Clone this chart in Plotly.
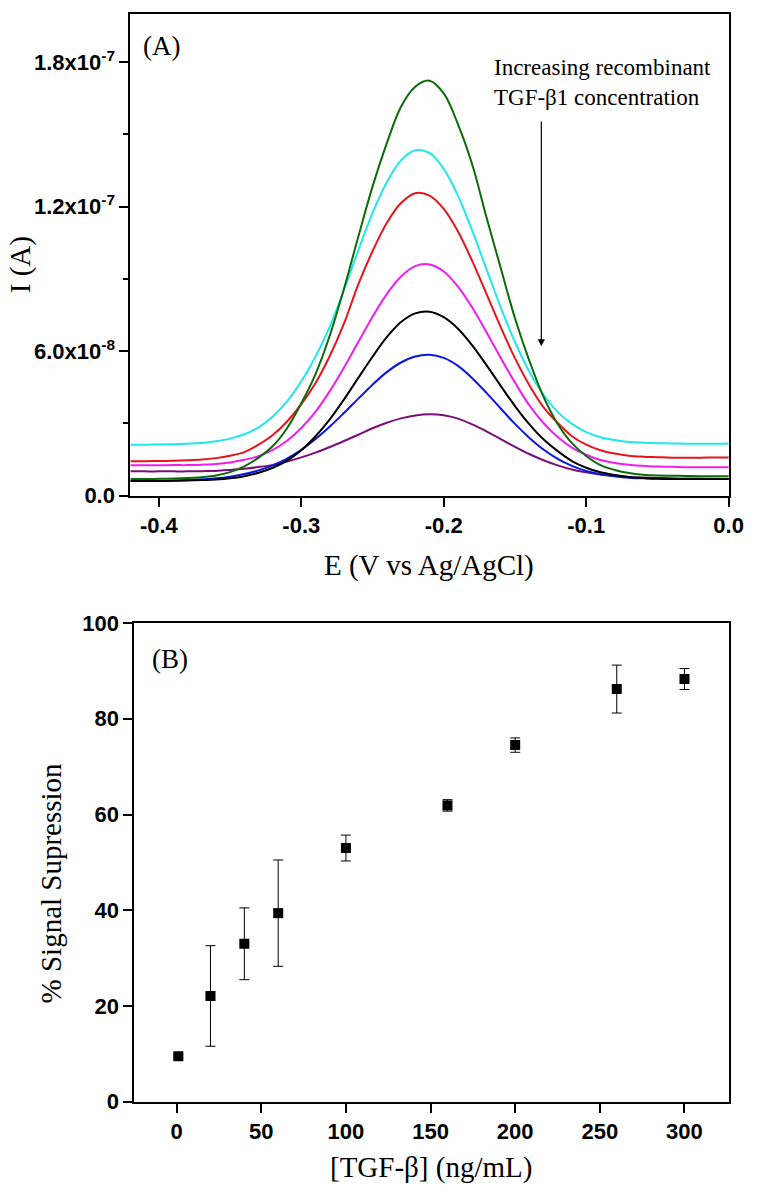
import plotly.graph_objects as go

# ---- panel A: voltammograms, potential (V) and current (units of 1e-8 A) ----
e_volts = [-0.42, -0.41, -0.40, -0.39, -0.38, -0.37, -0.36, -0.35, -0.34, -0.33,
           -0.32, -0.31, -0.30, -0.29, -0.28, -0.27, -0.26, -0.25, -0.24, -0.23,
           -0.22, -0.21, -0.20, -0.19, -0.18, -0.17, -0.16, -0.15, -0.14, -0.13,
           -0.12, -0.11, -0.10, -0.09, -0.08, -0.07, -0.06, -0.05, -0.04, -0.03,
           -0.02, -0.01, 0.00]
i_green = [0.69, 0.69, 0.70, 0.71, 0.73, 0.77, 0.84, 0.98, 1.22, 1.58,
           2.06, 2.80, 3.84, 5.05, 6.65, 8.60, 10.75, 12.83, 14.63, 16.15,
           16.98, 17.23, 16.70, 15.42, 13.75, 11.56, 9.45, 7.37, 5.62, 4.11,
           2.98, 2.18, 1.65, 1.27, 1.07, 0.94, 0.87, 0.84, 0.83, 0.82,
           0.81, 0.81, 0.81]
i_cyan = [2.12, 2.12, 2.13, 2.14, 2.16, 2.19, 2.26, 2.37, 2.55, 2.84,
          3.29, 3.92, 4.75, 5.78, 7.02, 8.55, 10.18, 11.74, 13.01, 13.92,
          14.34, 14.23, 13.57, 12.45, 11.00, 9.41, 7.82, 6.38, 5.16, 4.20,
          3.47, 2.98, 2.64, 2.43, 2.31, 2.23, 2.20, 2.18, 2.17, 2.16,
          2.16, 2.16, 2.17]
i_red = [1.43, 1.43, 1.44, 1.45, 1.47, 1.50, 1.56, 1.66, 1.81, 2.12,
         2.52, 3.08, 3.80, 4.68, 5.80, 7.15, 8.77, 10.15, 11.32, 12.15,
         12.56, 12.46, 11.91, 10.97, 9.74, 8.38, 7.00, 5.71, 4.60, 3.68,
         3.02, 2.47, 2.12, 1.89, 1.75, 1.66, 1.62, 1.60, 1.58, 1.58,
         1.58, 1.59, 1.59]
i_magenta = [1.26, 1.26, 1.26, 1.27, 1.27, 1.29, 1.32, 1.38, 1.49, 1.64,
             1.90, 2.28, 2.81, 3.49, 4.34, 5.32, 6.38, 7.43, 8.37, 9.10,
             9.53, 9.60, 9.31, 8.68, 7.81, 6.79, 5.72, 4.70, 3.76, 3.02,
             2.44, 2.00, 1.70, 1.48, 1.36, 1.28, 1.24, 1.21, 1.20, 1.18,
             1.18, 1.18, 1.18]
i_black = [0.61, 0.61, 0.61, 0.62, 0.63, 0.65, 0.67, 0.72, 0.81, 0.95,
           1.16, 1.46, 1.89, 2.47, 3.17, 4.00, 4.89, 5.77, 6.58, 7.21,
           7.57, 7.64, 7.41, 6.93, 6.24, 5.42, 4.56, 3.72, 2.97, 2.34,
           1.85, 1.44, 1.16, 0.97, 0.86, 0.78, 0.73, 0.71, 0.69, 0.69,
           0.69, 0.69, 0.69]
i_blue = [0.61, 0.61, 0.62, 0.63, 0.65, 0.68, 0.72, 0.79, 0.90, 1.05,
          1.26, 1.54, 1.90, 2.35, 2.87, 3.44, 4.03, 4.61, 5.13, 5.53,
          5.78, 5.85, 5.72, 5.39, 4.88, 4.27, 3.62, 2.98, 2.41, 1.92,
          1.53, 1.24, 1.03, 0.89, 0.81, 0.75, 0.72, 0.70, 0.69, 0.69,
          0.69, 0.69, 0.69]
i_purple = [1.02, 1.01, 1.01, 1.01, 1.01, 1.02, 1.03, 1.07, 1.12, 1.19,
            1.28, 1.42, 1.59, 1.79, 2.02, 2.27, 2.53, 2.80, 3.03, 3.21,
            3.33, 3.38, 3.34, 3.20, 2.96, 2.67, 2.35, 2.03, 1.73, 1.47,
            1.26, 1.09, 0.97, 0.88, 0.82, 0.78, 0.76, 0.74, 0.72, 0.71,
            0.71, 0.70, 0.69]
current_unit = 1e-8

a_yticks = [0, 6e-8, 1.2e-7, 1.8e-7]
a_yticktext = ["0.0", "6.0x10<sup>-8</sup>", "1.2x10<sup>-7</sup>", "1.8x10<sup>-7</sup>"]
a_xticks = [-0.4, -0.3, -0.2, -0.1, 0.0]
a_xticktext = ["-0.4", "-0.3", "-0.2", "-0.1", "0.0"]

# ---- panel B: signal suppression vs TGF-beta concentration ----
tgf_conc = [1, 20, 40, 60, 100, 160, 200, 260, 300]
suppression = [9.5, 22.1, 33.0, 39.4, 53.0, 61.9, 74.5, 86.2, 88.3]
suppression_err = [0.4, 10.5, 7.5, 11.1, 2.7, 1.2, 1.5, 5.0, 2.2]

serif = "Liberation Serif"
sans = "Liberation Sans"
W, H = 761, 1199


def px(x):
    return x / W


def py(y):
    return 1 - y / H


curves = [
    (i_purple, "#7a0f7a"),
    (i_blue, "#0a14e6"),
    (i_black, "#000000"),
    (i_magenta, "#f01cf0"),
    (i_red, "#e8141c"),
    (i_cyan, "#1ee8ec"),
    (i_green, "#0b6b0b"),
]

fig = go.Figure()
for vals, col in curves:
    fig.add_trace(go.Scatter(
        x=e_volts, y=[v * current_unit for v in vals], mode="lines",
        line=dict(color=col, width=2, shape="spline", smoothing=1),
        xaxis="x", yaxis="y", showlegend=False,
    ))

fig.add_trace(go.Scatter(
    x=tgf_conc, y=suppression, mode="markers",
    marker=dict(symbol="square", size=10, color="black"),
    error_y=dict(type="data", array=suppression_err, color="black", thickness=1, width=5),
    xaxis="x2", yaxis="y2", showlegend=False,
))

tick_font = dict(family=sans, size=22, color="black", weight="bold")
axis_common = dict(
    showline=True, linecolor="black", linewidth=2, mirror=True,
    ticks="outside", ticklen=9, tickwidth=2, tickcolor="black",
    showgrid=False, zeroline=False, tickfont=tick_font, ticklabeloverflow="allow",
)

fig.update_layout(
    width=W, height=H,
    margin=dict(l=0, r=0, t=0, b=0),
    paper_bgcolor="white", plot_bgcolor="white",
    xaxis=dict(domain=[px(133), px(744)], range=[-0.42, 0.0005], anchor="y",
               tickmode="array", tickvals=a_xticks, ticktext=a_xticktext, **axis_common),
    yaxis=dict(domain=[py(494), py(2)], range=[0, 2.0e-7], anchor="x",
               tickmode="array", tickvals=a_yticks, ticktext=a_yticktext,
               minor=dict(ticks="outside", ticklen=5, tickwidth=2, tickcolor="black",
                          dtick=3e-8, tick0=0),
               **axis_common),
    xaxis2=dict(domain=[px(137), px(744)], range=[-25, 326.5], anchor="y2",
                tickmode="linear", tick0=0, dtick=50, **axis_common),
    yaxis2=dict(domain=[py(1113), py(624)], range=[0, 100], anchor="x2",
                tickmode="linear", tick0=0, dtick=20, **axis_common),
)

title_font = dict(family=serif, size=29, color="black")
notes = [
    dict(text="I (A)", x=px(21), y=py(258), textangle=-90, font=title_font),
    dict(text="E (V vs Ag/AgCl)", x=px(438), y=py(565), font=title_font),
    dict(text="% Signal Supression", x=px(52), y=py(889), textangle=-90, font=title_font),
    dict(text="[TGF-β] (ng/mL)", x=px(440), y=py(1180), font=title_font),
    dict(text="(A)", x=px(165), y=py(35), font=dict(family=serif, size=27, color="black")),
    dict(text="(B)", x=px(173), y=py(661), font=dict(family=serif, size=27, color="black")),
    dict(text="Increasing recombinant<br>TGF-β1 concentration", x=px(502), y=py(72),
         xanchor="left", align="left", font=dict(family=serif, size=23, color="black")),
]
for n in notes:
    base = dict(xref="paper", yref="paper", showarrow=False, xanchor="center", yanchor="middle")
    base.update(n)
    fig.add_annotation(**base)

# arrow showing the direction of increasing concentration
fig.add_annotation(
    x=-0.1315, y=6.2e-8, ax=-0.1315, ay=1.556e-7,
    xref="x", yref="y", axref="x", ayref="y",
    showarrow=True, arrowhead=2, arrowsize=1.2, arrowwidth=1.2, arrowcolor="black",
    text="", font=dict(size=1), borderpad=0,
)

# let the 761x1199 figure fill the page exactly (no body margin, no scrollbars)
fig.write_html(
    "out.html",
    config={"displayModeBar": False},
    post_script="document.body.style.margin='0';"
                "document.documentElement.style.overflow='hidden';",
)
